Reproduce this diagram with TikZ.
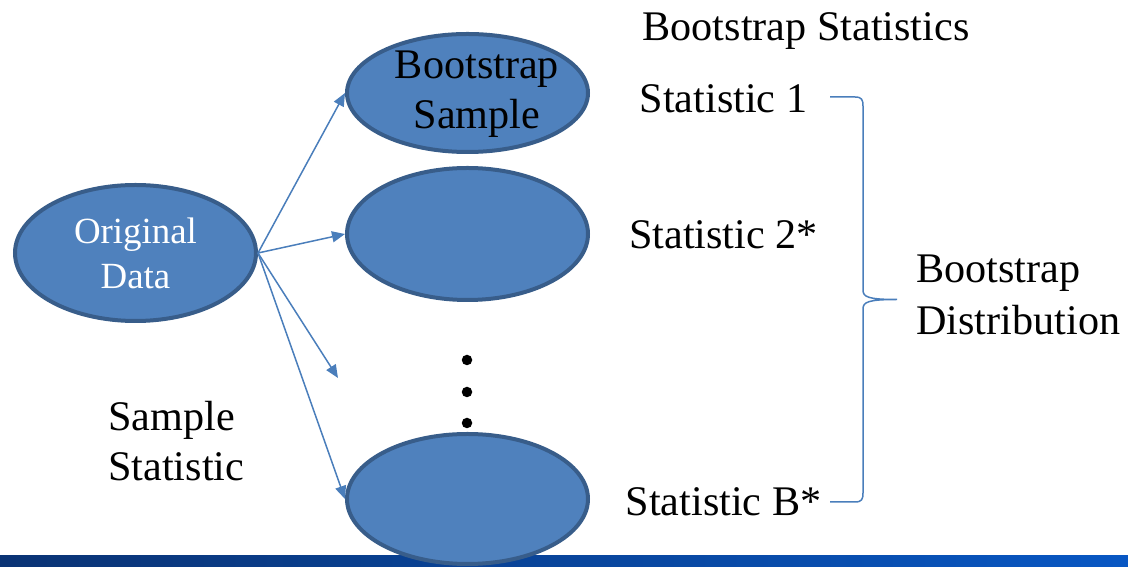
\documentclass[tikz,border=0pt]{standalone}
\usepackage{fontspec}
\setmainfont{Liberation Serif}
\usetikzlibrary{arrows.meta,shapes.geometric}
\definecolor{ovalfill}{HTML}{4F81BD}
\definecolor{ovalline}{HTML}{385D8A}
\definecolor{arrowblue}{HTML}{4A7EBB}
\definecolor{bardark}{HTML}{0A3374}
\definecolor{barlight}{HTML}{0857C3}
\tikzset{
	oval/.style={ellipse, fill=ovalfill, draw=ovalline, line width=0.8mm, inner sep=0, minimum width=48.2mm},
	arr/.style={draw=arrowblue, line width=0.3mm, -{Triangle[length=2.6mm,width=2.2mm]}},
	brace/.style={draw=arrowblue, line width=0.3mm},
	big/.style={inner sep=0, font=\fontsize{24}{29}\selectfont},
}

\begin{document}
\begin{tikzpicture}[x=0.2mm, y=-0.2mm]
			%%%%% START %%%%%
			\useasboundingbox (0,0) rectangle (1128,567);
			
			\shade[left color=bardark, right color=barlight] (0,556) rectangle (1128,567);
			
			\node[oval, minimum height=27.2mm] (od) at (135.5,253) {};
			\node[oval, minimum height=23.6mm] (bs1) at (467.5,93) {};
			\node[oval, minimum height=26.4mm] (bs2) at (467.5,234) {};
			\node[oval, minimum height=26mm] (bsB) at (467.5,499) {};
			
			\node[inner sep=0, text=white, align=center, font=\fontsize{21}{25.5}\selectfont] (odtxt) at (od) {Original\\Data};
			\node[big, align=center, font=\fontsize{24}{28.5}\selectfont] (bstxt) at (477,94) {Bootstrap\\Sample};
			
			\coordinate (gap) at (338,378);
			\draw[arr] (od.east) -- (bs1.west);
			\draw[arr] (od.east) -- (bs2.west);
			\draw[arr] (od.east) -- (gap);
			\draw[arr] (od.east) -- (bsB.west);
			
			\foreach \y in {360,392,423}
				\fill (467,\y) circle (1.05mm);
			
			\node[big] (title) at (806,31) {Bootstrap Statistics};
			\node[big] (st1) at (723.5,99) {Statistic 1};
			\node[big] (st2) at (723.5,235) {Statistic 2*};
			\node[big] (stB) at (723.5,502) {Statistic B*};
			
			\node[big, anchor=west, align=left, font=\fontsize{24}{28.5}\selectfont] (samplestat) at (108,441) {Sample\\Statistic};
			\node[big, anchor=west, align=left, font=\fontsize{24}{29.5}\selectfont] (dist) at (916,295) {Bootstrap\\Distribution};
			
			\coordinate (btop) at (830,97);
			\coordinate (bbot) at (830,502);
			\coordinate (btip) at (897,299.5);
			\draw[brace] (btop) -- (855,97) .. controls (862,97) and (863,100) .. (863,106) -- (863,290) .. controls (863,297) and (868,299.5) .. (btip) .. controls (868,299.5) and (863,302) .. (863,309) -- (863,493) .. controls (863,499) and (862,502) .. (855,502) -- (bbot);
			
			%%%%% END %%%%%
\end{tikzpicture}
\end{document}
